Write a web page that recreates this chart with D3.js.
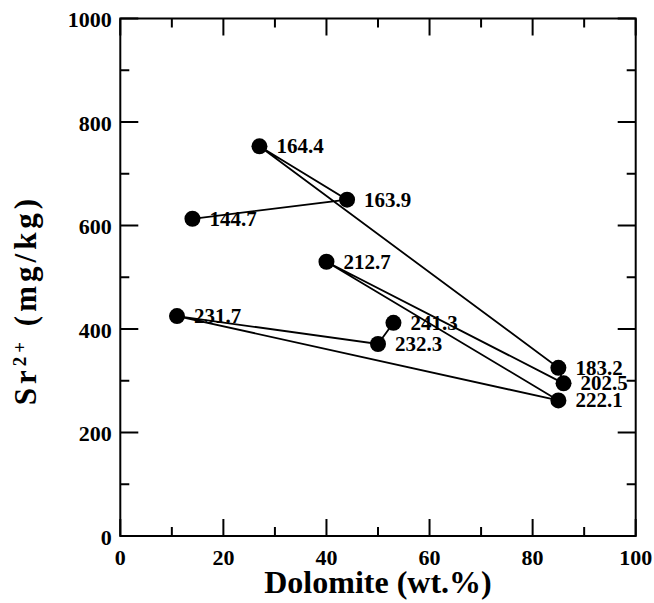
<!DOCTYPE html>
<html>
<head>
<meta charset="utf-8">
<script src="https://cdn.jsdelivr.net/npm/d3@7"></script>
<style>
  body { margin: 0; background: #fff; }
  svg { display: block; }
</style>
</head>
<body>
<svg id="chart" width="654" height="603"></svg>
<script>
"use strict";

// samples, in the order they are joined by the line
var depths = ["144.7", "163.9", "164.4", "183.2", "202.5", "212.7", "222.1", "231.7", "232.3", "241.3"];
var dolomite = [14, 44, 27, 85, 86, 40, 85, 11, 50, 53];
var strontium = [613, 650, 753, 325, 295, 530, 262, 425, 371, 412];

var xMajor = [0, 20, 40, 60, 80, 100];
var xMinor = [10, 30, 50, 70, 90];
var yMajor = [0, 200, 400, 600, 800, 1000];
var yMinor = [100, 300, 500, 700, 900];

var FONT = "'Liberation Serif', 'Times New Roman', Times, 'DejaVu Serif', serif";

var svg = d3.select("#chart")
  .attr("font-family", FONT)
  .attr("font-weight", "bold");

var x = d3.scaleLinear().domain([0, 100]).range([120.3, 635.7]);
var y = d3.scaleLinear().domain([0, 1000]).range([536, 18.5]);

var points = depths.map(function(d, i) {
  return { label: d, x: dolomite[i], y: strontium[i] };
});

// frame
svg.append("rect")
  .attr("x", x(0))
  .attr("y", y(1000))
  .attr("width", x(100) - x(0))
  .attr("height", y(0) - y(1000))
  .attr("fill", "none")
  .attr("stroke", "#000")
  .attr("stroke-width", 2);

/**
 * Inward ticks on both sides of an axis.
 */
function ticks(values, len, vertical) {
  var g = svg.append("g").attr("stroke", "#000").attr("stroke-width", 2);
  values.forEach(function(v) {
    if (vertical) {
      g.append("line").attr("x1", x(v)).attr("x2", x(v)).attr("y1", y(0)).attr("y2", y(0) - len);
      g.append("line").attr("x1", x(v)).attr("x2", x(v)).attr("y1", y(1000)).attr("y2", y(1000) + len);
    } else {
      g.append("line").attr("y1", y(v)).attr("y2", y(v)).attr("x1", x(0)).attr("x2", x(0) + len);
      g.append("line").attr("y1", y(v)).attr("y2", y(v)).attr("x1", x(100)).attr("x2", x(100) - len);
    }
  });
}
ticks(xMajor, 17, true);
ticks(xMinor, 9, true);
ticks(yMajor, 18, false);
ticks(yMinor, 9, false);

// tick labels
svg.append("g").selectAll("text")
  .data(xMajor)
  .enter()
  .append("text")
  .attr("x", function(d) { return x(d); })
  .attr("y", y(0) + 29)
  .attr("text-anchor", "middle")
  .attr("font-size", 22)
  .text(function(d) { return d; });

svg.append("g").selectAll("text")
  .data(yMajor)
  .enter()
  .append("text")
  .attr("x", x(0) - 8.5)
  .attr("y", function(d) { return y(d) + 8.5; })
  .attr("text-anchor", "end")
  .attr("font-size", 22)
  .text(function(d) { return d; });

// axis titles
svg.append("text")
  .attr("x", (x(0) + x(100)) / 2)
  .attr("y", 593)
  .attr("text-anchor", "middle")
  .attr("font-size", 32)
  .text("Dolomite (wt.%)");

var yt = svg.append("text")
  .attr("transform", "translate(36,300) rotate(-90)")
  .attr("text-anchor", "middle")
  .attr("font-size", 31)
  .attr("letter-spacing", 4);
yt.append("tspan").text("Sr");
yt.append("tspan").attr("dy", -10).attr("font-size", 19).text("2+");
yt.append("tspan").attr("dy", 10).text(" (mg/kg)");

// connecting line
var line = d3.line()
  .x(function(d) { return x(d.x); })
  .y(function(d) { return y(d.y); });

svg.append("path")
  .datum(points)
  .attr("d", line)
  .attr("fill", "none")
  .attr("stroke", "#000")
  .attr("stroke-width", 1.8);

// dots + depth labels
svg.append("g").selectAll("circle")
  .data(points)
  .enter()
  .append("circle")
  .attr("cx", function(d) { return x(d.x); })
  .attr("cy", function(d) { return y(d.y); })
  .attr("r", 8)
  .attr("fill", "#000");

svg.append("g").selectAll("text")
  .data(points)
  .enter()
  .append("text")
  .attr("x", function(d) { return x(d.x) + 17; })
  .attr("y", function(d) { return y(d.y) + 7; })
  .attr("font-size", 21)
  .text(function(d) { return d.label; });
</script>
</body>
</html>
